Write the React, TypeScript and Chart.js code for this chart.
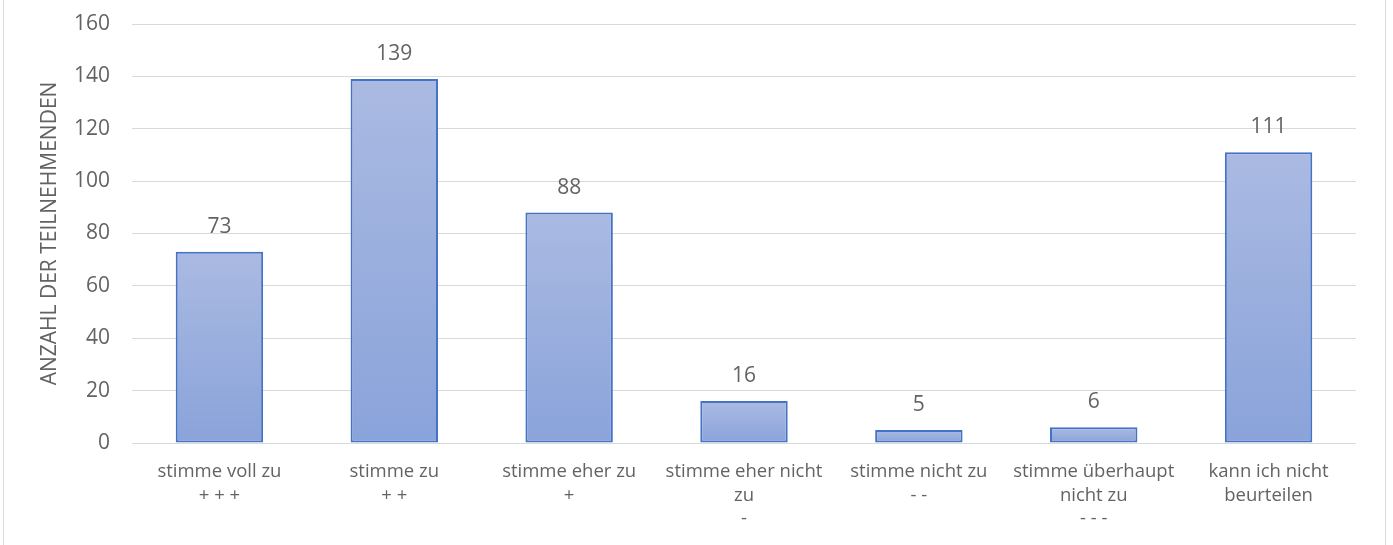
import React, { useEffect, useRef } from "react";
import { Chart, registerables } from "chart.js";

Chart.register(...registerables);

const categories: string[][] = [
  ["stimme voll zu", "+ + +"],
  ["stimme zu", "+ +"],
  ["stimme eher zu", "+"],
  ["stimme eher nicht", "zu", "-"],
  ["stimme nicht zu", "- -"],
  ["stimme überhaupt", "nicht zu", "- - -"],
  ["kann ich nicht", "beurteilen"],
];
const counts: number[] = [73, 139, 88, 16, 5, 6, 111];
const yTicks: number[] = [0, 20, 40, 60, 80, 100, 120, 140, 160];
const yTitle = "ANZAHL DER TEILNEHMENDEN";

const FONT = "'Open Sans', Lato, sans-serif";
const TEXT = "#636363";

const frame = {
  id: "frame",
  beforeDraw(chart: any) {
    const { ctx, width, height } = chart;
    ctx.save();
    ctx.fillStyle = "#ffffff";
    ctx.fillRect(0, 0, width, height);
    ctx.strokeStyle = "#d9d9d9";
    ctx.lineWidth = 1;
    ctx.beginPath();
    ctx.moveTo(3.5, 0);
    ctx.lineTo(3.5, height);
    ctx.moveTo(width - 7.5, 0);
    ctx.lineTo(width - 7.5, height);
    ctx.stroke();
    ctx.restore();
  },
};

const valueLabels = {
  id: "valueLabels",
  afterDatasetsDraw(chart: any) {
    const { ctx } = chart;
    const meta = chart.getDatasetMeta(0);
    ctx.save();
    ctx.font = `21px ${FONT}`;
    ctx.fillStyle = TEXT;
    ctx.textAlign = "center";
    ctx.textBaseline = "middle";
    meta.data.forEach((bar: any, i: number) => {
      ctx.fillText(String(counts[i]), bar.x, bar.y - 25);
    });
    ctx.restore();
  },
};

export default function App() {
  const ref = useRef<HTMLCanvasElement>(null);

  useEffect(() => {
    document.body.style.margin = "0";
    const chart = new Chart(ref.current!, {
      type: "bar",
      data: {
        labels: categories,
        datasets: [
          {
            data: counts,
            backgroundColor: (c: any) => {
              const ch = c.chart;
              const y = ch.scales?.y;
              if (!ch.chartArea || !y || c.parsed == null) return "#98acdd";
              const top = y.getPixelForValue(c.parsed.y);
              const base = y.getPixelForValue(0);
              const g = ch.ctx.createLinearGradient(0, top, 0, base);
              g.addColorStop(0, "#aabae2");
              g.addColorStop(1, "#8aa3da");
              return g;
            },
            borderColor: "#4472c4",
            borderWidth: 2,
            borderSkipped: false,
            categoryPercentage: 1,
            barPercentage: 0.5,
          },
        ],
      },
      options: {
        responsive: false,
        animation: false,
        maintainAspectRatio: false,
        layout: { padding: { left: 0, right: 37, top: 24, bottom: 0 } },
        plugins: {
          legend: { display: false },
          tooltip: { enabled: false },
        },
        scales: {
          x: {
            grid: { display: false },
            border: { display: false },
            ticks: {
              color: TEXT,
              font: { family: FONT, size: 18.5, lineHeight: 1.28 },
              padding: 9,
              maxRotation: 0,
              autoSkip: false,
            },
            afterFit: (s: any) => {
              s.height = 102;
            },
          },
          y: {
            min: 0,
            max: 160,
            afterBuildTicks: (s: any) => {
              s.ticks = yTicks.map((v) => ({ value: v }));
            },
            grid: {
              color: "#d9d9d9",
              lineWidth: 1,
              drawTicks: true,
              tickLength: 22,
              tickColor: "rgba(0,0,0,0)",
            },
            border: { display: false },
            ticks: {
              color: TEXT,
              font: { family: FONT, size: 21 },
              padding: 0,
            },
            title: {
              display: true,
              text: yTitle,
              color: TEXT,
              font: { family: FONT, size: 21 },
              padding: { top: 37, bottom: 0 },
            },
            afterFit: (s: any) => {
              s.width = 132;
            },
          },
        },
      },
      plugins: [frame, valueLabels],
    });
    return () => chart.destroy();
  }, []);

  return (
    <div style={{ position: "absolute", left: 0, top: 0, width: 1393, height: 545 }}>
      <canvas ref={ref} width={1393} height={545} style={{ display: "block" }} />
    </div>
  );
}
